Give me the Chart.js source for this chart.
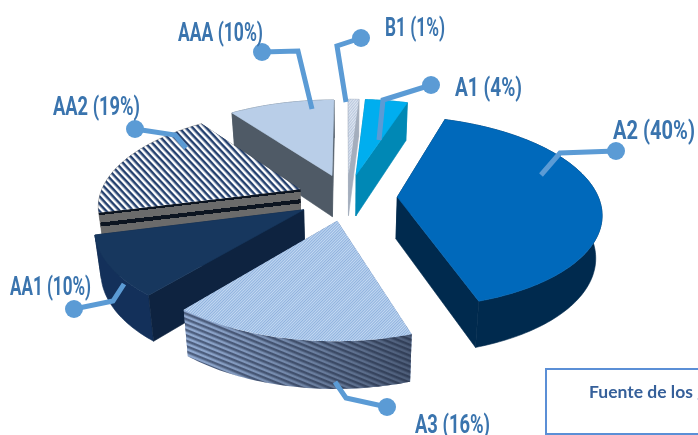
<!DOCTYPE html>
<html>
<head>
<meta charset="utf-8">
<title>Calificaciones</title>
<script src="https://cdn.jsdelivr.net/npm/chart.js@4"></script>
<style>
  html, body { margin: 0; padding: 0; background: #ffffff; overflow: hidden; }
  canvas { display: block; }
</style>
</head>
<body>
<canvas id="ratingChart" width="698" height="435"></canvas>
<script>
/* data */
const categories = ["B1", "A1", "A2", "A3", "AA1", "AA2", "AAA"];
const shares = [1, 4, 40, 16, 10, 19, 10];

/* view of the tilted pie */
const view = { cx: 347, cy: 197, radius: 201, tilt: 93.4, perspective: 0.155, depth: 42, shrink: 0.975 };
const explodePx = 50;

/* callouts, one per category: label box and leader line */
const callouts = {
  B1:  { left: 385, right: 445, base: 36,  line: [[361, 38], [337, 46], [346, 102]] },
  A1:  { left: 455, right: 522, base: 96,  line: [[431, 85], [383, 100], [379, 140]] },
  A2:  { left: 613, right: 695, base: 139, line: [[616, 151], [560, 153], [541, 175]] },
  A3:  { left: 415, right: 490, base: 433, line: [[387, 407], [346, 398], [335, 382]] },
  AA1: { left: 10,  right: 91,  base: 295, line: [[74, 309], [113, 301], [124, 284]] },
  AA2: { left: 53,  right: 140, base: 115, line: [[135, 129], [175, 135], [186, 148]] },
  AAA: { left: 178, right: 263, base: 41,  line: [[262, 52], [298, 51], [312, 109]] }
};

/* striped fills */
function stripes(back, front, period, band, angle) {
  const tile = document.createElement("canvas");
  tile.width = 4;
  tile.height = period;
  const t = tile.getContext("2d");
  t.fillStyle = back;
  t.fillRect(0, 0, 4, period);
  t.fillStyle = front;
  t.fillRect(0, 0, 4, band);
  const pattern = t.createPattern(tile, "repeat");
  pattern.setTransform(new DOMMatrix().rotate(angle));
  return pattern;
}

const topColors = [
  stripes("#dfe6f1", "#b9c8de", 2, 1, -50),
  "#00aeef",
  "#0069bb",
  stripes("#c4d9f2", "#8fb2de", 2, 1, -45),
  "#17375e",
  stripes("#ffffff", "#24406e", 5, 2.5, 47),
  "#b9cee8"
];
const sideColors = [
  "#a4aebd",
  "#0088b5",
  "#002a4e",
  stripes("#93acd3", "#4f6080", 5, 2.5, 22),
  "#0e2340",
  "#6b6b6b",
  "#4f5a66"
];
const rimColors = sideColors.slice();
rimColors[4] = "#13305a";
const aa2Bands = [
  [0, "#0c1420"], [2.5, "#0c1420"], [2.5, "#6b6b6b"], [10, "#6b6b6b"], [10, "#0c1420"],
  [14, "#0c1420"], [14, "#6b6b6b"], [42, "#6b6b6b"]
];

function project(u, v) {
  const s = 1 / (1 - view.perspective * v);
  return { x: view.cx + view.radius * u * s, y: view.cy + view.tilt * v * s, s: s };
}

function drop(p) {
  return {
    x: view.cx + (p.x - view.cx) * view.shrink,
    y: p.y + view.depth * Math.pow(p.s, 0.6)
  };
}

function fillPath(ctx, points, style) {
  ctx.beginPath();
  points.forEach((p, i) => (i ? ctx.lineTo(p.x, p.y) : ctx.moveTo(p.x, p.y)));
  ctx.closePath();
  ctx.fillStyle = style;
  ctx.fill();
  // hide the seam between neighbouring faces
  if (typeof style === "string") {
    ctx.strokeStyle = style;
    ctx.lineWidth = 0.6;
    ctx.stroke();
  }
}

function wallStyle(ctx, a, b, index) {
  if (categories[index] !== "AA2") return sideColors[index];
  const dx = b.x - a.x, dy = b.y - a.y, len = Math.hypot(dx, dy);
  const mx = (a.x + b.x) / 2, my = (a.y + b.y) / 2;
  const nx = -dy / len, ny = dx / len, sign = ny < 0 ? -1 : 1;
  const g = ctx.createLinearGradient(mx, my, mx + sign * nx * 42, my + sign * ny * 42);
  aa2Bands.forEach(b2 => g.addColorStop(b2[0] / 42, b2[1]));
  return g;
}

function drawSlice(ctx, el, index) {
  const start = el.startAngle + Math.PI / 2;
  const end = el.endAngle + Math.PI / 2;
  const mid = (start + end) / 2;
  const e = el.options.offset / 200;
  const au = e * Math.sin(mid), av = -e * Math.cos(mid);
  const apex = project(au, av);

  const rim = [];
  const steps = Math.max(4, Math.ceil((end - start) / 0.02));
  for (let i = 0; i <= steps; i++) {
    const a = start + (end - start) * i / steps;
    rim.push(project(au + Math.sin(a), av - Math.cos(a)));
  }
  const first = rim[0], last = rim[rim.length - 1];

  const walls = [
    { pts: [apex, first, drop(first), drop(apex)], a: apex, b: first, front: -Math.cos(start - Math.PI / 2) > 0 },
    { pts: [apex, last, drop(last), drop(apex)], a: apex, b: last, front: -Math.cos(end + Math.PI / 2) > 0 }
  ];
  const rimWall = rim.concat(rim.map(drop).reverse());
  walls.filter(w => !w.front).forEach(w => fillPath(ctx, w.pts, wallStyle(ctx, w.a, w.b, index)));
  fillPath(ctx, rimWall, rimColors[index]);
  walls.filter(w => w.front).forEach(w => fillPath(ctx, w.pts, wallStyle(ctx, w.a, w.b, index)));
  if (categories[index] === "A3") {
    const shade = ctx.createLinearGradient(183, 0, 410, 0);
    shade.addColorStop(0, "rgba(30,40,60,0)");
    shade.addColorStop(1, "rgba(30,40,60,0.6)");
    fillPath(ctx, rimWall, shade);
  }
  fillPath(ctx, [apex].concat(rim), el.options.backgroundColor);
}

const pie3d = {
  id: "pie3d",
  beforeDatasetDraw(chart, args) {
    const ctx = chart.ctx;
    const order = args.meta.data.map((el, i) => {
      const mid = (el.startAngle + el.endAngle) / 2 + Math.PI / 2;
      return { el: el, i: i, depth: -Math.cos(mid) };
    }).sort((p, q) => p.depth - q.depth);
    ctx.save();
    order.forEach(o => drawSlice(ctx, o.el, o.i));
    ctx.restore();
    return false;
  },
  afterDatasetsDraw(chart) {
    const ctx = chart.ctx;
    ctx.save();
    categories.forEach((name, i) => {
      const c = callouts[name];
      ctx.strokeStyle = "#5b9bd5";
      ctx.lineWidth = 5;
      ctx.lineJoin = "miter";
      ctx.beginPath();
      c.line.forEach((p, j) => (j ? ctx.lineTo(p[0], p[1]) : ctx.moveTo(p[0], p[1])));
      ctx.stroke();
      ctx.fillStyle = "#5b9bd5";
      ctx.beginPath();
      ctx.arc(c.line[0][0], c.line[0][1], 9, 0, Math.PI * 2);
      ctx.fill();
      ctx.fillStyle = "#3a74ae";
      ctx.font = "bold 26px Roboto";
      ctx.textAlign = "left";
      ctx.textBaseline = "alphabetic";
      ctx.fillText(name + " (" + shares[i] + "%)", c.left, c.base, c.right - c.left);
    });
    // source box, runs off the page like the original
    ctx.strokeStyle = "#5b8fd6";
    ctx.lineWidth = 2;
    ctx.strokeRect(546, 369, 170, 65);
    ctx.fillStyle = "#36609a";
    ctx.font = "bold 17.5px Lato";
    ctx.fillText("Fuente de los gráficos", 589, 398);
    ctx.restore();
  }
};

new Chart(document.getElementById("ratingChart"), {
  type: "pie",
  data: {
    labels: categories,
    datasets: [{
      data: shares,
      backgroundColor: topColors,
      offset: explodePx,
      borderWidth: 0
    }]
  },
  options: {
    responsive: false,
    animation: false,
    events: [],
    plugins: { legend: { display: false }, tooltip: { enabled: false } }
  },
  plugins: [pie3d]
});
</script>
</body>
</html>
